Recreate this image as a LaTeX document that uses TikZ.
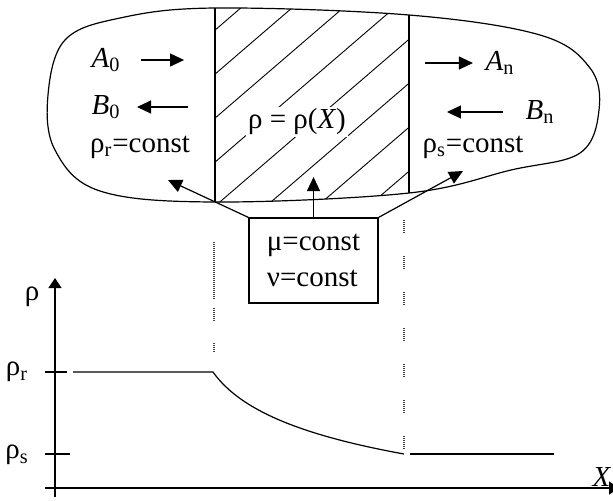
\documentclass[tikz,border=0pt]{standalone}
\usepackage{fontspec}
\setmainfont{Liberation Serif}
\usetikzlibrary{arrows.meta}

\begin{document}
\begin{tikzpicture}[x=0.5pt, y=-0.5pt, line width=0.6pt, every node/.style={font=\fontsize{14.5}{17}\selectfont, inner sep=2pt}, flow/.style={-{Triangle[length=7pt, width=6.5pt]}}, axis/.style={-{Triangle[length=5pt, width=6.5pt]}}, guide/.style={line width=0.9pt, black!75, dash pattern=on 0.5pt off 0.5pt}, hatch/.style={line width=0.45pt}]
  \useasboundingbox (0,0) rectangle (613,500);
  \def\blobpath{plot[smooth cycle, tension=0.6] coordinates {(215,8) (409,15) (540,35) (590,68) (599,110) (580,153) (511,170) (409,193) (215,202) (100,191) (55,150) (48,95) (65,40) (120,18)}}

  % hatched zone
  \begin{scope}
    \clip (215,0) rectangle (409,210);
    \clip \blobpath;
    \foreach \c in {215,259,...,523}
      \draw[hatch] (200,\c-172) -- (420,\c-361.2);
  \end{scope}
  \node (rhoX) [fill=white, inner sep=1pt] at (297,122) {ρ = ρ(\textit{X})};

  \draw \blobpath;
  \draw (215,8) -- (215,202);
  \draw (409,15) -- (409,193);

  % fluxes
  \node (A0) at (106,60) {\textit{A}\textsubscript{0}};
  \node (B0) at (106,107) {\textit{B}\textsubscript{0}};
  \node (rhor) at (140,147) {ρ\textsubscript{r}=const};
  \node (An) at (500,63) {\textit{A}\textsubscript{n}};
  \node (Bn) at (540,112) {\textit{B}\textsubscript{n}};
  \node (rhos) at (473,147) {ρ\textsubscript{s}=const};

  \draw[flow] ([xshift=8pt]A0.east) -- ([xshift=29.5pt]A0.east);
  \draw[flow] ([xshift=31.5pt]B0.east) -- ([xshift=6pt]B0.east);
  \draw[flow] ([xshift=-28pt]An.west) -- ([xshift=-4pt]An.west);
  \draw[flow] ([xshift=-9pt]Bn.west) -- ([xshift=-37pt]Bn.west);

  % constants box
  \node (eqbox) [draw, align=left, minimum width=64.5pt, minimum height=42.5pt] at (313.5,260.5) {μ=const\\[1pt]ν=const};
  \coordinate (ltip) at (168,180);
  \coordinate (mtip) at (313.5,177);
  \coordinate (rtip) at (463,171);
  \draw[flow] (eqbox.north west) -- (ltip);
  \draw[flow] (eqbox.north) -- (mtip);
  \draw[flow] (eqbox.north east) -- (rtip);

  % profile
  \node (rho) at (32,297) {ρ};
  \node (rholabr) at (17,372) {ρ\textsubscript{r}};
  \node (rholabs) at (17,455) {ρ\textsubscript{s}};
  \node (xlab) at (602,477) {\textit{X}};
  \draw[axis] (55,497) -- (55,278);
  \draw[axis] (45,488) -- (619,488);
  \draw (45,372) -- (67,372);
  \draw (45,454) -- (70,454);
  \draw (73,372) -- (213,372) .. controls (240,410) and (300,435) .. (404,454);
  \draw (410,454) -- (554,454);

  \draw[guide] (214,242) -- (214,300);
  \draw[guide] (214,308) -- (214,322);
  \draw[guide] (214,343) -- (214,353);
  \foreach \y in {220,256,...,436}
    \draw[guide] (404,\y) -- ++(0,14);
\end{tikzpicture}
\end{document}
